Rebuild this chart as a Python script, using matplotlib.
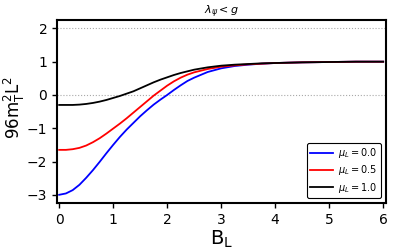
import matplotlib
matplotlib.use("Agg")
import matplotlib.pyplot as plt

# values
B = [0.0, 0.125, 0.25, 0.375, 0.5, 0.625, 0.75, 0.875, 1.0, 1.125, 1.25, 1.375,
     1.5, 1.625, 1.75, 1.875, 2.0, 2.125, 2.25, 2.375, 2.5, 2.75, 3.0, 3.25,
     3.5, 3.75, 4.0, 4.5, 5.0, 5.5, 6.0]
mu00 = [-3.00, -2.96, -2.86, -2.70, -2.49, -2.26, -2.01, -1.75, -1.50, -1.26, -1.04, -0.84,
        -0.64, -0.46, -0.29, -0.14, 0.00, 0.15, 0.29, 0.42, 0.52, 0.69, 0.80, 0.87,
        0.91, 0.94, 0.96, 0.98, 0.99, 1.00, 1.00]
mu05 = [-1.65, -1.65, -1.63, -1.59, -1.52, -1.42, -1.30, -1.16, -1.01, -0.86, -0.70, -0.53,
        -0.36, -0.19, -0.02, 0.13, 0.28, 0.41, 0.52, 0.61, 0.68, 0.78, 0.85, 0.89,
        0.92, 0.94, 0.96, 0.98, 0.99, 1.00, 1.00]
mu10 = [-0.30, -0.30, -0.30, -0.29, -0.27, -0.24, -0.20, -0.15, -0.09, -0.03, 0.04, 0.11,
        0.20, 0.29, 0.38, 0.46, 0.53, 0.60, 0.66, 0.71, 0.76, 0.83, 0.88, 0.91,
        0.93, 0.95, 0.96, 0.98, 0.99, 1.00, 1.00]
labels = [r'$\mu_L = 0.0$', r'$\mu_L = 0.5$', r'$\mu_L = 1.0$']
colors = ['blue', 'red', 'black']
grid_at = [0, 2]

fig = plt.figure(figsize=(3.97, 2.48), dpi=100)
ax = fig.add_axes([0.1436, 0.181, 0.8284, 0.738])

for y in grid_at:
    ax.axhline(y, color='darkgray', ls=':', lw=0.8, zorder=0)

for ys, lab, c in zip([mu00, mu05, mu10], labels, colors):
    ax.plot(B, ys, color=c, lw=1.3, label=lab)

ax.set_xlim(-0.04, 6.05)
ax.set_ylim(-3.25, 2.25)
ax.set_xticks(range(0, 7))
ax.set_yticks([-3, -2, -1, 0, 1, 2])
ax.tick_params(labelsize=10, width=1, length=3.5)
for s in ax.spines.values():
    s.set_linewidth(1.5)

ax.set_title(r'$\lambda_\psi < g$', fontsize=8, pad=3)
ax.set_xlabel(r'$\mathrm{B_L}$', fontsize=14, labelpad=1)
ax.set_ylabel(r'$\mathrm{96m_T^2L^2}$', fontsize=12)
ax.yaxis.set_label_coords(-0.09, 0.52)

leg = ax.legend(loc='lower right', fontsize=7, framealpha=1, edgecolor='black',
                handlelength=2.3, handletextpad=0.6, borderpad=0.35, labelspacing=0.35)
leg.get_frame().set_linewidth(0.8)

fig.savefig('out.png', dpi=100)
